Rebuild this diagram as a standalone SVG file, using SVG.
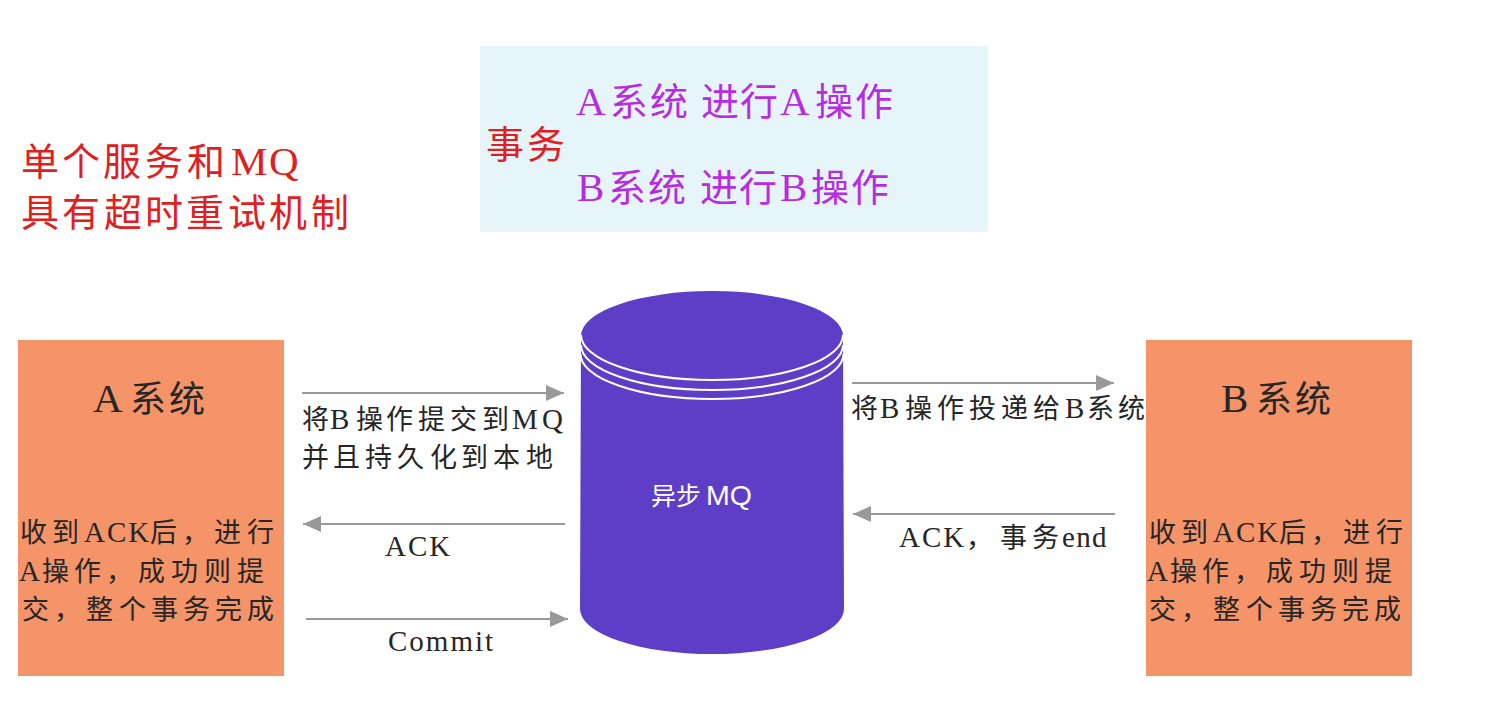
<svg xmlns="http://www.w3.org/2000/svg" width="1496" height="714" viewBox="0 0 1496 714">
<style>
text{font-family:"Liberation Serif","Noto Sans CJK SC",serif;fill:#262626;font-size:27px}
.sys{font-size:36px}
.red{fill:#e02020;font-size:38px}
.pur{fill:#b92be0;font-size:38px}
.l{font-size:29px}
.red .l,.pur .l,.sys .l{font-size:41px}
.conn{stroke:#999;stroke-width:2;fill:none;marker-end:url(#arr)}
.box{fill:#f49468}
.sp{letter-spacing:2px}
</style>
<defs><marker id="arr" markerUnits="userSpaceOnUse" markerWidth="19" markerHeight="16" refX="18" refY="8" orient="auto"><path d="M0 0L18 8L0 16Z" fill="#999"/></marker></defs>
<rect width="1496" height="714" fill="#fff"/>
<g id="note"><text class="red" y="175" x="21 62 103 145 187">单个服务和<tspan class="l" x="231 269">MQ</tspan></text><text class="red" y="226" x="21 62 104 145 186 228 269 311">具有超时重试机制</text></g>
<g id="transaction"><rect x="480" y="46" width="508" height="186" fill="#e5f5fa"/><text class="red" y="158" x="486 527">事务</text><text class="pur" y="115"><tspan class="l" x="576">A</tspan><tspan x="610 650 690 701 740">系统 进行</tspan><tspan class="l" x="780">A</tspan><tspan x="815 855">操作</tspan></text><text class="pur" y="201"><tspan class="l" x="577">B</tspan><tspan x="608 648 688 700 739">系统 进行</tspan><tspan class="l" x="780">B</tspan><tspan x="811 851">操作</tspan></text></g>
<g id="system-a"><rect class="box" x="18" y="340" width="266" height="336"/><text class="sys" y="412"><tspan class="l" x="93">A</tspan><tspan x="130 169">系统</tspan></text><text y="542"><tspan x="20 52">收到</tspan><tspan class="l sp" x="84">ACK</tspan><tspan x="150 182 214 247">后，进行</tspan></text><text y="581"><tspan class="l" x="19">A</tspan><tspan x="42 74 106 138 171 204 237">操作，成功则提</tspan></text><text y="619" x="22 54 86 119 151 183 215 247">交，整个事务完成</text></g>
<g id="system-b"><rect class="box" x="1146" y="340" width="266" height="336"/><text class="sys" y="412"><tspan class="l" x="1221">B</tspan><tspan x="1256 1295">系统</tspan></text><text y="542"><tspan x="1149 1181">收到</tspan><tspan class="l sp" x="1213">ACK</tspan><tspan x="1279 1311 1343 1376">后，进行</tspan></text><text y="581"><tspan class="l" x="1147">A</tspan><tspan x="1170 1202 1234 1266 1299 1332 1365">操作，成功则提</tspan></text><text y="619" x="1149 1181 1213 1246 1278 1310 1342 1374">交，整个事务完成</text></g>
<g id="mq"><path d="M581 336A131 45 0 0 1 843 336L844 609A132 45 0 0 1 580 609Z" fill="#5f3ec7"/><path d="M581 335A131 45 0 0 0 843 335M581 345A131 45 0 0 0 843 345M580.500 354A131.500 45 0 0 0 843.500 354" fill="none" stroke="#fff" stroke-width="2"/><text x="651" y="505" style="font-family:'Noto Sans CJK SC','Liberation Sans',sans-serif;fill:#fff;font-size:25px"><tspan>异步</tspan><tspan x="706" style="font-family:'Liberation Sans',sans-serif;font-size:28.500px">MQ</tspan></text></g>
<g id="connectors"><path class="conn" d="M302 393H564"/><path class="conn" d="M565 524H303"/><path class="conn" d="M306 619H568"/><path class="conn" d="M852 383H1114"/><path class="conn" d="M1115 514H853"/></g>
<g id="labels"><text y="429"><tspan x="302">将</tspan><tspan class="l" x="330">B</tspan><tspan x="356 386 418 450 482">操作提交到</tspan><tspan class="l" x="512 542">MQ</tspan></text><text y="467" x="302 333 365 397 430 461 493 526">并且持久化到本地</text><text class="l sp" x="385" y="556">ACK</text><text class="l sp" x="388" y="651">Commit</text><text y="418"><tspan x="851">将</tspan><tspan class="l" x="880">B</tspan><tspan x="905 937 969 1001 1033">操作投递给</tspan><tspan class="l" x="1065">B</tspan><tspan x="1087 1118">系统</tspan></text><text y="547"><tspan class="l sp" x="899">ACK</tspan><tspan x="966 1000 1032">，事务</tspan><tspan class="l" x="1062" style="letter-spacing:1.300px">end</tspan></text></g>
</svg>
